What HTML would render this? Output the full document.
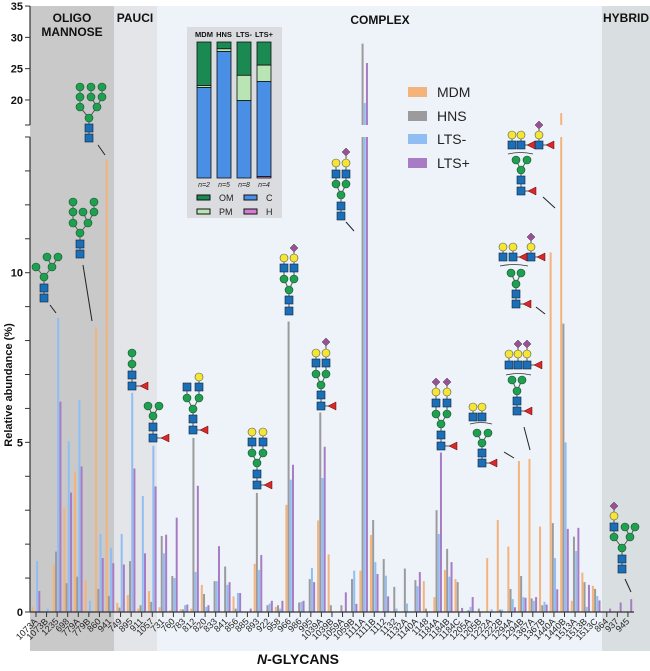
<!DOCTYPE html>
<html><head><meta charset="utf-8"><style>
html,body{margin:0;padding:0;background:#fff;}
svg{display:block;font-family:"Liberation Sans",sans-serif;}
</style></head><body>
<svg id="chart" width="650" height="671" viewBox="0 0 650 671" xmlns="http://www.w3.org/2000/svg">
<g id="bands">
<rect x="30" y="6" width="84" height="645" fill="#c9c9c9"/>
<rect x="114" y="6" width="43" height="645" fill="#e4e5e8"/>
<rect x="157" y="6" width="445" height="645" fill="#eef3f9"/>
<rect x="602" y="6" width="48" height="645" fill="#d9dfe0"/>
</g>
<g font-weight="bold" font-size="12" fill="#111" text-anchor="middle">
<text x="72" y="22">OLIGO</text>
<text x="72" y="36">MANNOSE</text>
<text x="135" y="22">PAUCI</text>
<text x="380" y="24">COMPLEX</text>
<text x="626" y="22">HYBRID</text>
</g>
<g id="bars"></g>
<g id="axes"></g>
<g id="icons"></g>
<g font-size="14" fill="#222">
<rect x="408" y="87" width="19" height="10" fill="#f4b37a"/>
<text x="437" y="97">MDM</text>
<rect x="408" y="111" width="19" height="10" fill="#9b9b9d"/>
<text x="437" y="121">HNS</text>
<rect x="408" y="134" width="19" height="10" fill="#90bdf2"/>
<text x="437" y="144">LTS-</text>
<rect x="408" y="158" width="19" height="10" fill="#a87cc4"/>
<text x="437" y="168">LTS+</text>
</g>
<g id="inset"></g>
<text transform="translate(12,385) rotate(-90)" text-anchor="middle" font-size="11" font-weight="bold" fill="#111">Relative abundance (%)</text>
<text x="298" y="664" text-anchor="middle" font-size="14" font-weight="bold" fill="#111"><tspan font-style="italic">N</tspan>-GLYCANS</text>
</svg>
<script>
const categories=["1073A","1073B","1235","698","779A","779B","860","941","749","895","911","1057","731","760","783","812","820","833","841","856","885","893","922","958","966","986","995","1039A","1039B","1059A","1059B","1111A","1111B","1112","1132","1132A","1140A","1148","1184A","1184B","1184C","1205A","1205B","1222A","1222B","1294A","1294B","1367A","1367B","1440A","1440B","1513A","1513B","1513C","864","937","945"];
const mdm=[0.15,0,1.4,3.07,4.14,0.94,8.38,13.33,0.27,0.5,0.1,0.62,0.14,0.05,0.08,0.1,0.8,0,0,0.46,0,1.42,0,0.15,3.16,0,0,2.7,1.7,0,0,1.22,2.27,0,0,0,0,0.91,0.44,1.24,0.97,0,0,1.59,2.71,1.93,4.45,4.51,2.52,10.6,17.9,0.33,1.16,0.77,0,0,0];
const hns=[0,0,1.78,0.85,1.04,0,0.68,0.47,0.13,1.5,0.2,0.3,2.24,1.06,0.08,5.13,0.53,0.91,1.34,0.1,0,3.51,0.2,0.2,8.56,0.28,0.97,5.88,0.2,0.2,0.97,29,2.71,1.56,0.74,1.28,0.94,0.1,3.0,1.86,0.88,0.05,0.1,0,0.07,0.68,1.06,0.4,0.2,2.62,8.5,2.22,0.88,0.68,0,0,0];
const ltsMinus=[1.5,0.1,8.67,5.03,6.25,0.33,2.3,1.89,2.3,6.46,3.42,4.9,1.73,1.0,0.2,1.18,0.15,0.91,0.8,0.56,0,1.24,0.25,0.1,3.9,0.3,1.3,3.95,0,0,1.22,19.5,1.47,1.07,0.1,0.25,0.76,0,2.3,1.04,0,0.15,0,0.08,0.07,0.38,0.44,0.33,0.3,1.59,5.0,1.8,0.15,0.47,0,0,0];
const ltsPlus=[0.62,0,6.2,3.52,4.29,0,1.59,1.44,1.4,4.23,1.73,3.7,2.28,2.78,0.22,3.72,0.2,1.94,0.88,0.56,0.1,1.68,0.33,0.33,4.34,0.33,0.88,4.87,0,0.58,0.24,25.9,1.12,0.46,0,0,1.18,0,4.7,1.47,0.12,0.44,0,0,0,0.14,0.42,0.44,0.22,0.67,2.45,2.48,0.8,0.34,0.1,0.28,0.38];
const lowTicks=[0,1,2,3,4,5,6,7,8,9,10,11,12,13,14];
const lowTickLabels=["0","","","","","5","","","","","10","","","",""];
const highTicks=[20,25,30,35];
const insetGroups=["MDM","HNS","LTS-","LTS+"];
const insetN=["n=2","n=5","n=8","n=4"];
const insetOM=[32,5,24.5,17];
const insetPM=[1.5,2,18.6,12];
const insetC=[66.5,93,56.9,70];
const insetH=[0,0,0,1];

const NS="http://www.w3.org/2000/svg";
function mk(tag,attrs,parent){const e=document.createElementNS(NS,tag);for(const k in attrs)e.setAttribute(k,attrs[k]);parent.appendChild(e);return e;}
const X0=36,DX=10.57,Y0=612,LOW=33.93,BRK_LO=137,BRK_HI=125,HIGH=6.26;
function xs(i){return X0+i*DX;}
function ys(v){if(v<=14)return Y0-v*LOW;if(v<16)return BRK_LO;return BRK_HI-(v-16)*HIGH;}

const bars=document.getElementById('bars');
const series=[[mdm,"#f4b37a","mdm",-3.3],[hns,"#9b9b9d","hns",-1.1],[ltsMinus,"#90bdf2","lts-minus",1.1],[ltsPlus,"#a87cc4","lts-plus",3.3]];
series.forEach(s=>{
  s[0].forEach((v,i)=>{
    if(v<=0)return;
    const x=xs(i)+s[3]-1;
    if(v<=14){
      const r=mk('rect',{x:x,y:ys(v),width:2,height:Y0-ys(v),fill:s[1]},bars);
      
      
    }else{
      const r=mk('rect',{x:x,y:BRK_LO,width:2,height:Y0-BRK_LO,fill:s[1]},bars);
      
      
      const r2=mk('rect',{x:x,y:ys(v),width:2,height:BRK_HI-ys(v),fill:s[1]},bars);
      
      
    }
  });
});

const axes=document.getElementById('axes');
let l=mk('line',{x1:30,y1:Y0,x2:30,y2:BRK_LO,stroke:"#333","stroke-width":1.2},axes);

l=mk('line',{x1:30,y1:BRK_HI,x2:30,y2:6,stroke:"#333","stroke-width":1.2},axes);

l=mk('line',{x1:30,y1:Y0,x2:634,y2:Y0,stroke:"#333","stroke-width":1.2},axes);

lowTicks.forEach((t,k)=>{
  const y=ys(t);
  const tk=mk('line',{x1:25,y1:y,x2:30,y2:y,stroke:"#333","stroke-width":1},axes);
  
  if(lowTickLabels[k]){const tx=mk('text',{x:23,y:y+4,"text-anchor":"end","font-size":11,"font-weight":"bold",fill:"#111"},axes);tx.textContent=lowTickLabels[k];
  }
});
[BRK_HI].forEach(y=>{const tk=mk('line',{x1:25,y1:y,x2:30,y2:y,stroke:"#333","stroke-width":1},axes);
});
highTicks.forEach(t=>{
  const y=ys(t);
  const tk=mk('line',{x1:25,y1:y,x2:30,y2:y,stroke:"#333","stroke-width":1},axes);
  
  const tx=mk('text',{x:23,y:y+4,"text-anchor":"end","font-size":11,"font-weight":"bold",fill:"#111"},axes);tx.textContent=String(t);
  
});
categories.forEach((c,i)=>{
  const x=xs(i);
  const tk=mk('line',{x1:x,y1:Y0,x2:x,y2:Y0+5,stroke:"#333","stroke-width":1},axes);
  
  const tx=mk('text',{x:x+2,y:Y0+10,"text-anchor":"end","font-size":9,fill:"#222",transform:"rotate(-45 "+(x+2)+" "+(Y0+10)+")"},axes);
  tx.textContent=c;
  
});

// glycan icons: nodes [type,x,y,parentIndex], type: G green circle, B blue square, Y yellow circle, D diamond, R triangle
const icons=[
 {n:[["B",44,298,-1],["B",44,288,0],["G",44,277,1],["G",36,267,2],["G",52,267,2],["G",47,257,4],["G",58,257,4]],ln:[50,305,56,313]},
 {n:[["B",80,254,-1],["B",80,244,0],["G",80,233,1],["G",73,223,2],["G",88,223,2],["G",73,212,3],["G",73,202,5],["G",83,212,4],["G",94,212,4],["G",94,202,8]],ln:[83,265,92,321]},
 {n:[["B",89,138,-1],["B",89,128,0],["G",89,118,1],["G",80,107,2],["G",97,107,2],["G",80,97,3],["G",80,87,5],["G",91,97,4],["G",102,97,4],["G",91,87,7],["G",102,87,8]],ln:[98,145,105,155]},
 {n:[["B",132,386,-1],["B",132,375,0],["G",132,364,1],["G",132,353,2],["R",144,386,0]]},
 {n:[["B",153,438,-1],["B",153,427,0],["G",153,416,1],["G",148,406,2],["G",159,406,2],["R",165,438,0]]},
 {n:[["B",193,430,-1],["B",193,419,0],["G",193,409,1],["G",187,398,2],["G",199,398,2],["B",187,387,3],["B",199,387,4],["Y",199,377,6],["R",204,430,0]]},
 {n:[["B",257,485,-1],["B",257,474,0],["G",257,463,1],["G",252,453,2],["G",263,453,2],["B",252,442,3],["B",263,442,4],["Y",252,432,5],["Y",263,432,6],["R",268,485,0]]},
 {n:[["B",289,311,-1],["B",289,300,0],["G",289,290,1],["G",284,279,2],["G",294,279,2],["B",284,268,3],["B",294,268,4],["Y",284,258,5],["Y",294,258,6],["D",294,248,8]]},
 {n:[["B",321,406,-1],["B",321,395,0],["G",321,385,1],["G",316,374,2],["G",326,374,2],["B",316,363,3],["B",326,363,4],["Y",316,353,5],["Y",326,353,6],["D",326,342,8],["R",332,406,0]]},
 {n:[["B",341,216,-1],["B",341,206,0],["G",341,195,1],["G",336,184,2],["G",346,184,2],["B",336,174,3],["B",346,174,4],["Y",336,163,5],["Y",346,163,6],["D",346,152,8]],ln:[346,222,354,231]},
 {n:[["B",441,446,-1],["B",441,435,0],["G",441,424,1],["G",436,414,2],["G",447,414,2],["B",436,403,3],["B",447,403,4],["Y",436,392,5],["Y",447,392,6],["D",436,382,7],["D",447,382,8],["R",453,446,0]]},
 {n:[["B",482,463,-1],["B",482,453,0],["G",482,443,1],["G",477,433,2],["G",488,433,2],["B",473,417,-1],["B",482,417,-1],["Y",473,407,5],["Y",482,407,6],["R",493,463,0]],br:[470,424,492],ln:[504,452,514,458]},
 {n:[["B",517,411,-1],["B",517,401,0],["G",517,391,1],["G",512,380,2],["G",522,380,2],["B",509,365,-1],["B",518,365,-1],["B",527,365,-1],["Y",509,354,5],["Y",518,354,6],["Y",527,354,7],["D",518,344,9],["D",527,344,10],["R",538,365,7],["R",528,411,0]],br:[506,375,531],ln:[524,427,530,450]},
 {n:[["B",516,304,-1],["B",516,294,0],["G",516,284,1],["G",511,273,2],["G",521,273,2],["B",503,257,-1],["B",513,257,-1],["B",531,257,-1],["Y",503,247,5],["Y",513,247,6],["Y",531,247,7],["D",531,237,10],["R",523,257,6],["R",541,257,7],["R",527,304,0]],br:[500,266,528],ln:[536,307,545,314]},
 {n:[["B",521,191,-1],["B",521,180,0],["G",521,170,1],["G",516,160,2],["G",527,160,2],["B",512,145,-1],["B",521,145,-1],["B",539,145,-1],["Y",512,135,5],["Y",521,135,6],["Y",539,135,7],["D",539,125,10],["R",531,145,6],["R",550,145,7],["R",532,191,0]],br:[508,154,533],ln:[543,197,555,208]},
 {n:[["B",622,569,-1],["B",622,559,0],["G",622,548,1],["G",614,537,2],["G",630,537,2],["B",614,527,3],["Y",614,516,5],["D",614,506,6],["G",625,527,4],["G",635,527,4]],ln:[625,579,631,592]}
];
const ig=document.getElementById('icons');
icons.forEach((ic,k)=>{
  const g=mk('g',{},ig);
  
  
  if(ic.ln)mk('line',{x1:ic.ln[0],y1:ic.ln[1],x2:ic.ln[2],y2:ic.ln[3],stroke:"#222","stroke-width":1},g);
  if(ic.br)mk('path',{d:"M"+ic.br[0]+" "+ic.br[1]+" Q"+((ic.br[0]+ic.br[2])/2)+" "+(ic.br[1]-3)+" "+ic.br[2]+" "+ic.br[1],stroke:"#333",fill:"none","stroke-width":0.8},g);
  ic.n.forEach(nd=>{if(nd[3]>=0){const p=ic.n[nd[3]];mk('line',{x1:nd[1],y1:nd[2],x2:p[1],y2:p[2],stroke:"#555","stroke-width":1},g);}});
  ic.n.forEach(nd=>{
    const [t,x,y]=nd;
    if(t==="G")mk('circle',{cx:x,cy:y,r:4,fill:"#1ea050",stroke:"#1a4d2e","stroke-width":0.6},g);
    else if(t==="Y")mk('circle',{cx:x,cy:y,r:4,fill:"#f5e634",stroke:"#555","stroke-width":0.6},g);
    else if(t==="B")mk('rect',{x:x-4,y:y-4,width:8,height:8,fill:"#1a6fb8",stroke:"#123","stroke-width":0.6},g);
    else if(t==="D")mk('path',{d:`M${x} ${y-4}L${x+4} ${y}L${x} ${y+4}L${x-4} ${y}Z`,fill:"#9b4f96",stroke:"#444","stroke-width":0.5},g);
    else if(t==="R")mk('path',{d:`M${x-4} ${y}L${x+4} ${y-4}L${x+4} ${y+4}Z`,fill:"#d42a2a",stroke:"#600","stroke-width":0.5},g);
  });
});

// inset
const ins=document.getElementById('inset');
let bg=mk('rect',{x:187,y:27,width:95,height:191,fill:"#dadcdf"},ins);

const IB=[197,217,237,257],IT=42,IH=136;
insetGroups.forEach((gname,i)=>{
  const x=IB[i];
  const h=mk('text',{x:x+7,y:37,"text-anchor":"middle","font-size":7.5,"font-weight":"bold",fill:"#111"},ins);
  h.textContent=gname;
  let y=IT;
  [[insetOM,"#1a8a52","om"],[insetPM,"#b9e5b5","pm"],[insetC,"#4a8fe6","c"],[insetH,"#d87ad8","h"]].forEach(s=>{
    const hh=s[0][i]/100*IH;
    if(hh>0){const r=mk('rect',{x:x,y:y,width:14,height:hh,fill:s[1],stroke:"#111","stroke-width":0.8},ins);
    }
    y+=hh;
  });
  const n=mk('text',{x:x+7,y:187,"text-anchor":"middle","font-size":7,"font-style":"italic",fill:"#222"},ins);
  n.textContent=insetN[i];
});
[["OM","#1a8a52",197,198],["PM","#b9e5b5",197,212],["C","#4a8fe6",244,198],["H","#d87ad8",244,212]].forEach(e=>{
  const r=mk('rect',{x:e[2],y:e[3]-3,width:13,height:5,fill:e[1],stroke:"#111","stroke-width":1},ins);
  
  const t=mk('text',{x:e[2]+22,y:e[3]+3,"font-size":9,fill:"#222"},ins);
  t.textContent=e[0];
});
</script>
</body></html>
